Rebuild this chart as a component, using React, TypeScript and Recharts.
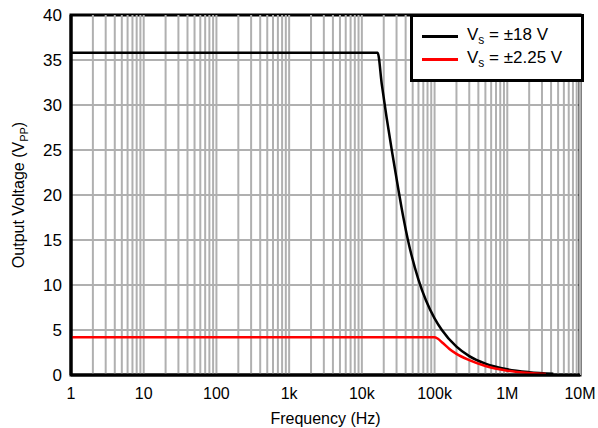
import React from 'react';
import { LineChart, Line, XAxis, YAxis, CartesianGrid, ReferenceLine, ReferenceArea } from 'recharts';

// frequency (Hz) and output voltage (Vpp)
const freqHigh = [1, 10, 100, 1000, 10000, 16500, 18800, 22000, 26000, 31500, 37000, 43000, 60000, 76000, 100000, 126000, 200000, 300000, 500000, 1000000, 2000000, 4300000];
const vppHigh = [35.8, 35.8, 35.8, 35.8, 35.8, 35.8, 32.3, 28.5, 24.8, 20.8, 17.6, 15.0, 10.6, 8.3, 6.3, 5.0, 3.15, 2.1, 1.26, 0.63, 0.32, 0.15];

const freqLow = [1, 10, 100, 1000, 10000, 50000, 100000, 110000, 130000, 160000, 200000, 300000, 500000, 1000000, 2000000, 3400000];
const vppLow = [4.2, 4.2, 4.2, 4.2, 4.2, 4.2, 4.2, 4.05, 3.55, 2.9, 2.35, 1.65, 1.0, 0.48, 0.22, 0.12];

const seriesNames = ['±18 V', '±2.25 V'];
const seriesColors = ['#000000', '#ff0000'];

const xTicks = [1, 10, 100, 1000, 10000, 100000, 1000000, 10000000];
const xTickLabels = ['1', '10', '100', '1k', '10k', '100k', '1M', '10M'];
const yTicks = [0, 5, 10, 15, 20, 25, 30, 35, 40];
const minorMultipliers = [1, 2, 3, 4, 5, 6, 7, 8, 9];

const highData = freqHigh.map((f, i) => ({ f, v: vppHigh[i] }));
const lowData = freqLow.map((f, i) => ({ f, v: vppLow[i] }));
const gridX = xTicks.slice(0, -1).flatMap((d) => minorMultipliers.map((m) => d * m)).concat([10000000]);

const font = 'Arial, "Liberation Sans", sans-serif';

const YTitle = (props: any) => {
  const { viewBox } = props;
  const cx = 24;
  const cy = viewBox.y + viewBox.height / 2;
  return (
    <text x={cx} y={cy} transform={`rotate(-90 ${cx} ${cy})`} textAnchor="middle" fontSize={16} fill="#000" fontFamily={font}>
      Output Voltage (V<tspan fontSize={11} dy={4}>PP</tspan><tspan dy={-4}>)</tspan>
    </text>
  );
};

export default function App() {
  return (
    <div style={{ position: 'absolute', left: 0, top: 0, width: 598, height: 428, background: '#fff', fontFamily: font }}>
      <LineChart width={598} height={428} margin={{ top: 15, right: 18, bottom: 0, left: 21 }}>
        <CartesianGrid vertical={false} stroke="#b0b0b0" strokeWidth={2} />
        {gridX.map((x) => (
          <ReferenceLine key={x} x={x} stroke="#b0b0b0" strokeWidth={2} />
        ))}
        <XAxis
          dataKey="f"
          type="number"
          scale="log"
          domain={[1, 10000000]}
          ticks={xTicks}
          tickFormatter={(v: number) => xTickLabels[xTicks.indexOf(v)] ?? ''}
          allowDataOverflow
          height={53}
          tickLine={false}
          tickSize={0}
          tickMargin={13}
          axisLine={{ stroke: '#000', strokeWidth: 3 }}
          tick={{ fill: '#000', fontSize: 16, fontFamily: font }}
          label={{ value: 'Frequency (Hz)', position: 'insideBottom', offset: 4, fill: '#000', fontSize: 16, fontFamily: font }}
        />
        <YAxis
          type="number"
          domain={[0, 40]}
          ticks={yTicks}
          width={50}
          tickLine={false}
          tickSize={0}
          tickMargin={9}
          axisLine={{ stroke: '#000', strokeWidth: 3 }}
          tick={{ fill: '#000', fontSize: 17, fontFamily: font }}
          label={<YTitle />}
        />
        <ReferenceArea x1={1} x2={10000000} y1={0} y2={40} fill="none" stroke="#000" strokeWidth={3} />
        <Line data={highData} dataKey="v" type="monotone" stroke={seriesColors[0]} strokeWidth={2.5} dot={false} isAnimationActive={false} />
        <Line data={lowData} dataKey="v" type="monotone" stroke={seriesColors[1]} strokeWidth={2.5} dot={false} isAnimationActive={false} />
      </LineChart>
      <div
        style={{
          position: 'absolute',
          left: 410,
          top: 14,
          width: 168,
          height: 62,
          border: '3px solid #000',
          background: '#fff',
          boxSizing: 'content-box',
          fontSize: 17,
          color: '#000',
        }}
      >
        {seriesNames.map((name, i) => (
          <div key={name} style={{ position: 'absolute', left: 9, top: 8 + i * 23, height: 22, display: 'flex', alignItems: 'center' }}>
            <div style={{ width: 36, height: 3, background: seriesColors[i], marginRight: 9 }} />
            <span style={{ whiteSpace: 'nowrap' }}>
              V<sub style={{ fontSize: 12, verticalAlign: -4 }}>s</sub> = {name}
            </span>
          </div>
        ))}
      </div>
    </div>
  );
}
